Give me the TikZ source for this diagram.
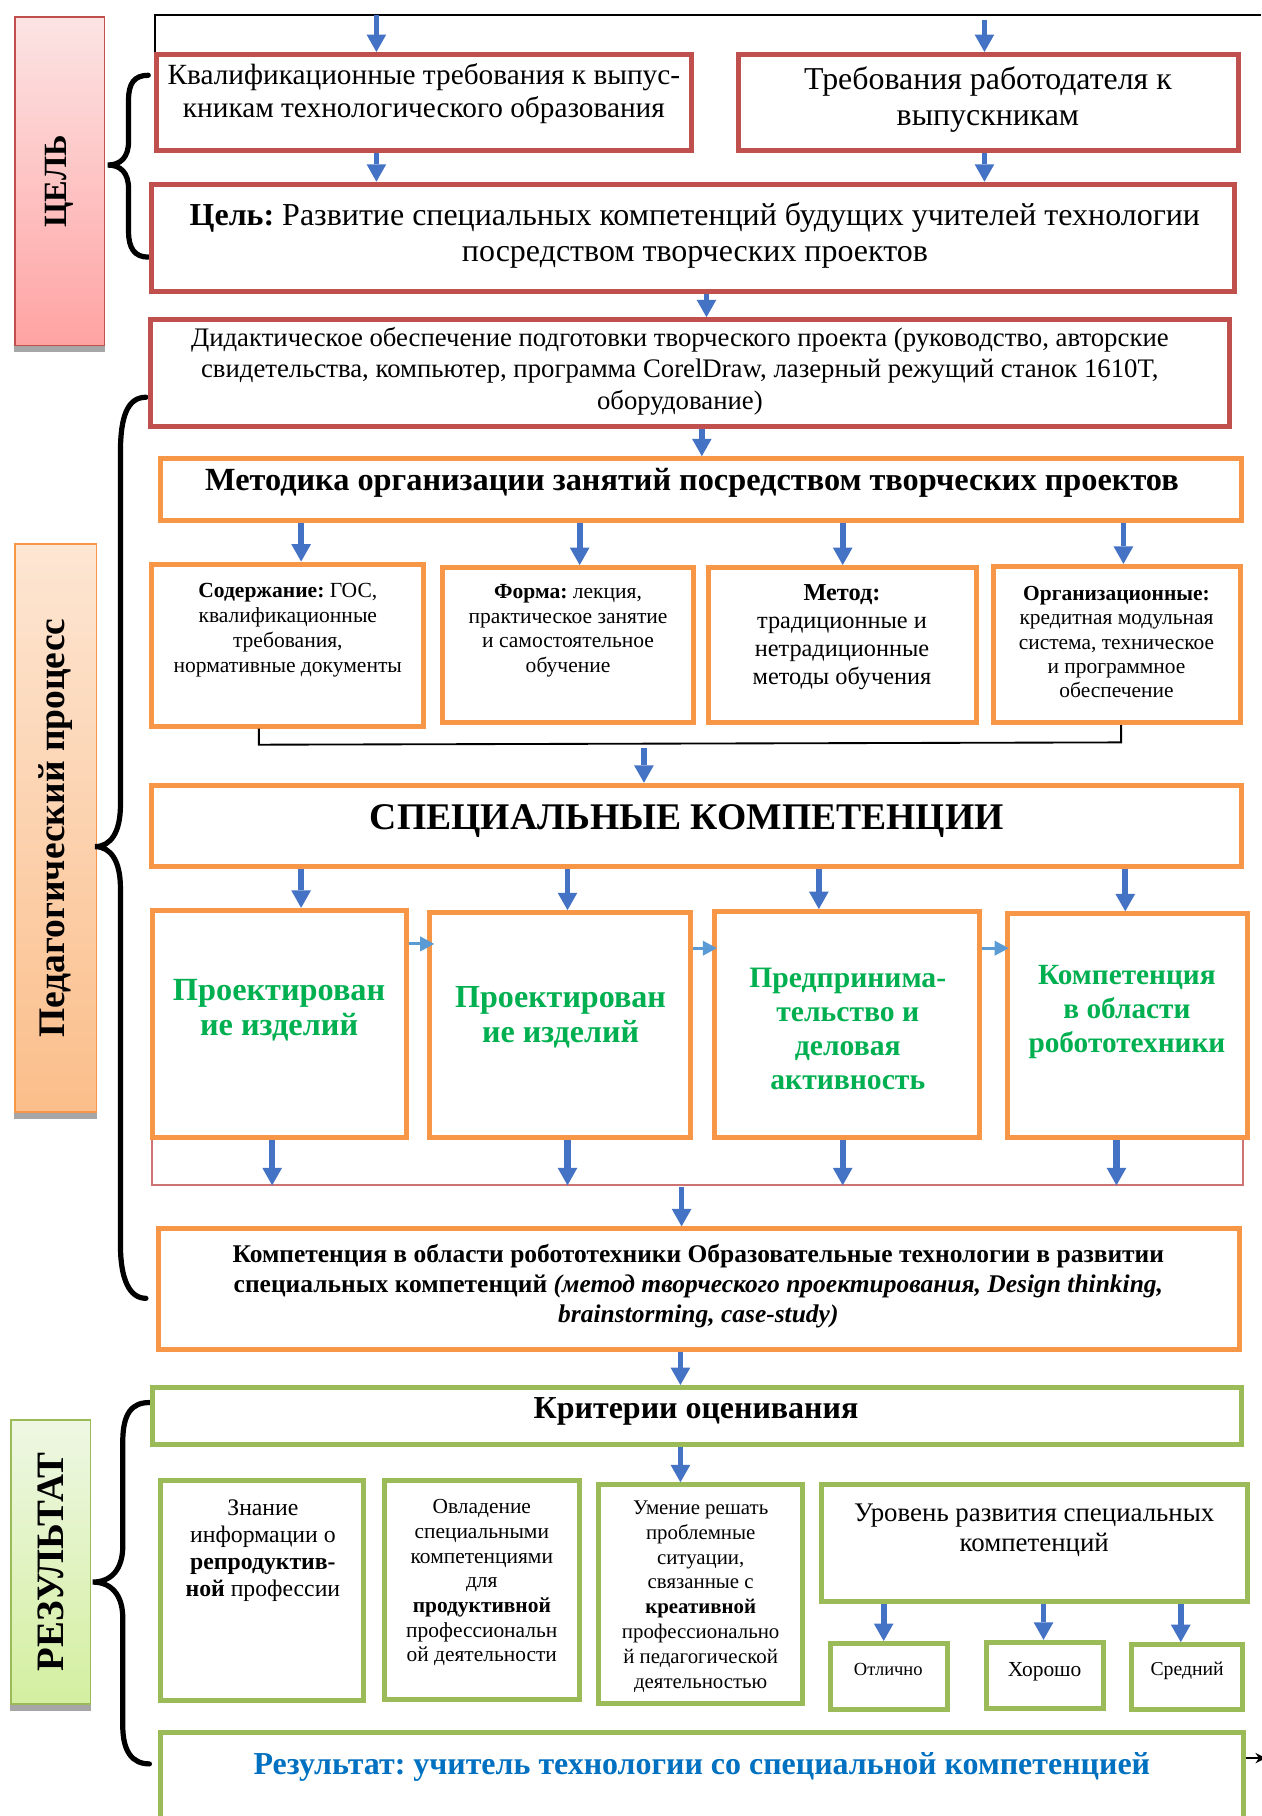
\documentclass[tikz,border=0pt]{standalone}
\usepackage{fontspec}
\setmainfont{Liberation Serif}
\usetikzlibrary{arrows.meta}
\definecolor{cRed}{HTML}{C0504D}
\definecolor{cOrange}{HTML}{F79646}
\definecolor{cGreen}{HTML}{9BBB59}
\definecolor{cBlue}{HTML}{4472C4}
\definecolor{cLBlue}{HTML}{5B9BD5}
\definecolor{cTxtGreen}{HTML}{00B050}
\definecolor{cTxtBlue}{HTML}{0070C0}
\definecolor{gTopA}{HTML}{FCE4E4}
\definecolor{gBotA}{HTML}{FFA3A3}
\definecolor{gTopB}{HTML}{FDE6D3}
\definecolor{gBotB}{HTML}{FBBE8A}
\definecolor{gTopC}{HTML}{EEF7E4}
\definecolor{gBotC}{HTML}{D4EFA0}
\newcommand\fsz[2]{\fontsize{#1}{#2}\selectfont}
\begin{document}
\frenchspacing
\begin{tikzpicture}[x=1pt,y=-1pt,
  box/.style={rectangle, fill=white, line width=4.3pt, inner sep=0pt},
  rbox/.style={box, draw=cRed},
  obox/.style={box, draw=cOrange},
  gbox/.style={box, draw=cGreen},
  txt/.style={align=center, inner sep=0pt, yshift=-2.5pt},
  ltxt/.style={align=center, inner sep=0pt},
  barrow/.style={draw=cBlue, line width=5pt, -{Triangle[width=17pt,length=15pt,line width=0pt]}},
  sarrow/.style={draw=cLBlue, line width=2.5pt, -{Triangle[width=13pt,length=12pt,line width=0pt]}},
  brace/.style={draw=black, line width=4.5pt, line cap=round},
  lbl/.style={rectangle, inner sep=0pt, line width=1.5pt},
  shadowband/.style={fill=black!35}
]
\path[use as bounding box, fill=white] (0,0) rectangle (1089,1568);

% ---------- left labels ----------
\node[lbl, draw=cRed, top color=gTopA, bottom color=gBotA, minimum width=77.5pt, minimum height=283.5pt] (L1) at (51.5,156.5) {};
\fill[shadowband] (L1.south west) rectangle ([yshift=-5pt]L1.south east);
\node[ltxt, rotate=90, font=\fsz{28}{30}\bfseries] (L1t) at (L1.center) {ЦЕЛЬ};

\node[lbl, draw=cOrange, top color=gTopB, bottom color=gBotB, minimum width=70.5pt, minimum height=490.5pt] (L2) at (48,715) {};
\fill[shadowband] (L2.south west) rectangle ([yshift=-5pt]L2.south east);
\node[ltxt, rotate=90, font=\fsz{32.4}{34}\bfseries] (L2t) at (L2.center) {Педагогический процесс};

\node[lbl, draw=cGreen, top color=gTopC, bottom color=gBotC, minimum width=68.5pt, minimum height=245.5pt] (L3) at (44,1348.5) {};
\fill[shadowband] (L3.south west) rectangle ([yshift=-5pt]L3.south east);
\node[ltxt, rotate=90, font=\fsz{33.5}{35}\bfseries] (L3t) at (L3.center) {РЕЗУЛЬТАТ};

% ---------- braces ----------
\draw[brace] (128,65) .. controls (116,65) and (111,72) .. (111,86) -- (111,122) .. controls (111,136) and (104,142.5) .. (93,142.5) .. controls (104,142.5) and (111,149) .. (111,163) -- (111,200) .. controls (111,214) and (116,222) .. (128,222);
\draw[brace] (126,343) .. controls (110,343) and (104,360) .. (104,390) -- (104,695) .. controls (104,718) and (96,731) .. (82,731) .. controls (96,731) and (104,744) .. (104,767) -- (104,1075) .. controls (104,1105) and (112,1121) .. (126,1121);
\draw[brace] (129,1211) .. controls (114,1211) and (106,1220) .. (106,1245) -- (106,1335) .. controls (106,1355) and (96,1366) .. (80,1366) .. controls (96,1366) and (106,1377) .. (106,1397) -- (106,1490) .. controls (106,1512) and (114,1523) .. (129,1523);

% ---------- boxes ----------
\node[rbox, minimum width=462pt, minimum height=83pt] (b1) at (366,88.5) {};
\node[rbox, minimum width=431pt, minimum height=83pt] (b2) at (853.5,88.5) {};
\node[rbox, minimum width=935pt, minimum height=93pt] (b3) at (598.5,205.5) {};
\node[rbox, minimum width=932pt, minimum height=92pt] (b4) at (596,322) {};
\node[obox, minimum width=933pt, minimum height=53pt] (b5) at (605.5,422.5) {};
\node[obox, minimum width=235pt, minimum height=140pt] (b6a) at (248.5,557) {};
\node[obox, minimum width=217pt, minimum height=134pt] (b6b) at (490.5,557) {};
\node[obox, minimum width=231pt, minimum height=134pt] (b6c) at (727.5,557) {};
\node[obox, minimum width=213pt, minimum height=135pt] (b6d) at (964.5,556.5) {};
\node[obox, minimum width=941pt, minimum height=70pt] (b7) at (601.5,713) {};
\node[obox, minimum width=219pt, minimum height=196pt] (c1) at (241.5,884) {};
\node[obox, minimum width=225pt, minimum height=194pt] (c2) at (483.5,885) {};
\node[obox, minimum width=229pt, minimum height=195pt] (c3) at (731.5,884.5) {};
\node[obox, minimum width=207pt, minimum height=193pt] (c4) at (973.5,885.5) {};
\node[obox, minimum width=933pt, minimum height=104pt] (b8) at (603.5,1113) {};
\node[gbox, minimum width=940pt, minimum height=49pt] (b9) at (602,1222.5) {};
\node[gbox, minimum width=175pt, minimum height=190pt] (d1) at (226.5,1373) {};
\node[gbox, minimum width=168pt, minimum height=189pt] (d2) at (416,1372.5) {};
\node[gbox, minimum width=176pt, minimum height=189pt] (d3) at (605,1376.5) {};
\node[gbox, minimum width=368pt, minimum height=101pt] (d4) at (893,1332.5) {};
\node[gbox, minimum width=101pt, minimum height=57pt] (e1) at (767.5,1447.5) {};
\node[gbox, minimum width=101pt, minimum height=57pt] (e2) at (902.5,1446.5) {};
\node[gbox, minimum width=96pt, minimum height=56pt] (e3) at (1025,1448) {};
\node[gbox, minimum width=935pt, minimum height=104pt] (b10) at (606.5,1548) {};

% ---------- texts ----------
\node[txt, font=\fsz{25.3}{29}] (t1) at (366,78.5) {Квалификационные требования к выпус-\\кникам технологического образования};
\node[txt, font=\fsz{27.5}{31.8}] (t2) at (853,83.5) {Требования работодателя к\\выпускникам};
\node[txt, font=\fsz{27.6}{31.3}] (t3) at (600,201) {\textbf{Цель:} Развитие специальных компетенций будущих учителей технологии\\посредством творческих проектов};
\node[txt, font=\fsz{23.1}{27.3}] (t4) at (587,318) {Дидактическое обеспечение подготовки творческого проекта (руководство, авторские\\свидетельства, компьютер, программа CorelDraw, лазерный режущий станок 1610T,\\оборудование)};
\node[txt, font=\fsz{27.9}{31}\bfseries] (t5) at (597.5,414.5) {Методика организации занятий посредством творческих проектов};
\node[txt, font=\fsz{18.6}{21.7}] (t6a) at (248.5,541.5) {\textbf{Содержание:} ГОС,\\квалификационные\\требования,\\нормативные документы};
\node[txt, font=\fsz{18.6}{21.3}] (t6b) at (490.5,542) {\textbf{Форма:} лекция,\\практическое занятие\\и самостоятельное\\обучение};
\node[txt, font=\fsz{21}{24.4}] (t6c) at (727,547.7) {\textbf{Метод:}\\традиционные и\\нетрадиционные\\методы обучения};
\node[txt, font=\fsz{18.5}{21}] (t6d) at (964,552) {\textbf{Организационные:}\\кредитная модульная\\система, техническое\\и программное\\обеспечение};
\node[txt, font=\fsz{32.5}{36}\bfseries] (t7) at (593,706.7) {СПЕЦИАЛЬНЫЕ КОМПЕТЕНЦИИ};
\node[txt, font=\fsz{27.9}{30}\bfseries, text=cTxtGreen] (tc1) at (241,870) {Проектирован\\ие изделий};
\node[txt, font=\fsz{27.7}{30}\bfseries, text=cTxtGreen] (tc2) at (484,876) {Проектирован\\ие изделий};
\node[txt, font=\fsz{25.6}{29.3}\bfseries, text=cTxtGreen] (tc3) at (732,886) {Предпринима-\\тельство и\\деловая\\активность};
\node[txt, font=\fsz{25.3}{29.4}\bfseries, text=cTxtGreen] (tc4) at (973,871.6) {Компетенция\\в области\\робототехники};
\node[txt, font=\fsz{22}{26}\bfseries] (t8) at (603,1108) {Компетенция в области робототехники Образовательные технологии в развитии\\специальных компетенций \textit{(метод творческого проектирования, Design thinking,}\\\textit{brainstorming, case-study)}};
\node[txt, font=\fsz{27.6}{30}\bfseries] (t9) at (601,1216) {Критерии оценивания};
\node[txt, font=\fsz{20.5}{23.5}] (td1) at (227,1336.4) {Знание\\информации о\\\textbf{репродуктив-}\\\textbf{ной} профессии};
\node[txt, font=\fsz{18.5}{21.3}] (td2) at (416,1364) {Овладение\\специальными\\компетенциями\\для\\\textbf{продуктивной}\\профессиональн\\ой деятельности};
\node[txt, font=\fsz{18}{21.4}] (td3) at (605,1376) {Умение решать\\проблемные\\ситуации,\\связанные с\\\textbf{креативной}\\профессионально\\й педагогической\\деятельностью};
\node[txt, font=\fsz{23.2}{26}] (td4) at (893,1318.5) {Уровень развития специальных\\компетенций};
\node[txt, font=\fsz{16}{18}] (te1) at (767,1439) {Отлично};
\node[txt, font=\fsz{18.5}{22}] (te2) at (902,1440.6) {Хорошо};
\node[txt, font=\fsz{17}{19}] (te3) at (1025,1440) {Средний};
\node[txt, font=\fsz{27.6}{30}\bfseries, text=cTxtBlue] (t10) at (606,1522.8) {Результат: учитель технологии со специальной компетенцией};

% ---------- connectors ----------
\coordinate (tl) at (134,13);
\coordinate (tr) at (1089,13);
\draw[line width=1.5pt] (tl |- b1.north) -- (tl) -- (tr);
\coordinate (a1) at (325,13);
\coordinate (a2) at (850,17);
\draw[barrow] (a1) -- (a1 |- b1.north);
\draw[barrow] (a2) -- (a2 |- b2.north);
\draw[barrow] (a1 |- b1.south) -- (a1 |- b3.north);
\draw[barrow] (a2 |- b2.south) -- (a2 |- b3.north);
\coordinate (a3) at (610,0);
\draw[barrow] (a3 |- b3.south) -- (a3 |- b4.north);
\coordinate (a4) at (606,0);
\draw[barrow] (a4 |- b4.south) -- (a4 |- b5.north);
\coordinate (x1) at (260,0);
\coordinate (x2) at (500.5,0);
\coordinate (x3) at (727.6,0);
\coordinate (x4) at (970,0);
\draw[barrow] (x1 |- b5.south) -- (x1 |- b6a.north);
\draw[barrow] (x2 |- b5.south) -- (x2 |- b6b.north);
\draw[barrow] (x3 |- b5.south) -- (x3 |- b6c.north);
\draw[barrow] (x4 |- b5.south) -- (x4 |- b6d.north);
% bracket under the four boxes
\coordinate (bl) at (223.5,643);
\coordinate (br) at (968,641);
\draw[line width=1.6pt] (bl |- b6a.south) -- (bl) -- (br) -- (br |- b6d.south);
\coordinate (a5) at (556,646);
\draw[barrow] (a5) -- (a5 |- b7.north);
\coordinate (y1) at (260,0);
\coordinate (y2) at (490,0);
\coordinate (y3) at (707,0);
\coordinate (y4) at (971.6,0);
\draw[barrow] (y1 |- b7.south) -- (y1 |- c1.north);
\draw[barrow] (y2 |- b7.south) -- (y2 |- c2.north);
\draw[barrow] (y3 |- b7.south) -- (y3 |- c3.north);
\draw[barrow] (y4 |- b7.south) -- (y4 |- c4.north);
% small arrows between the competence boxes
\coordinate (h1) at (0,815);
\coordinate (h2) at (0,818.7);
\draw[sarrow] (c1.east |- h1) -- ([xshift=6pt]c2.west |- h1);
\draw[sarrow] (c2.east |- h2) -- ([xshift=4pt]c3.west |- h2);
\draw[sarrow] (c3.east |- h2) -- ([xshift=3pt]c4.west |- h2);
% red collecting line
\coordinate (rl) at (131.5,1023.4);
\coordinate (rr) at (1073,1023.4);
\draw[draw=cRed!80, line width=1.5pt] (rl |- c1.south) -- (rl) -- (rr) -- (rr |- c4.south);
\coordinate (z1) at (235,0);
\coordinate (z2) at (490,0);
\coordinate (z3) at (727.6,0);
\coordinate (z4) at (964,0);
\draw[barrow, line width=5.5pt] (z1 |- c1.south) -- (z1 |- rl);
\draw[barrow, line width=5.5pt] (z2 |- c2.south) -- (z2 |- rl);
\draw[barrow, line width=5.5pt] (z3 |- c3.south) -- (z3 |- rl);
\draw[barrow, line width=5.5pt] (z4 |- c4.south) -- (z4 |- rl);
\coordinate (a6) at (588.5,1025);
\draw[barrow] (a6) -- (a6 |- b8.north);
\coordinate (a7) at (587.5,0);
\draw[barrow] (a7 |- b8.south) -- (a7 |- b9.north);
\draw[barrow] (a7 |- b9.south) -- (a7 |- d3.north);
\coordinate (w1) at (763,0);
\coordinate (w2) at (901,0);
\coordinate (w3) at (1019.5,0);
\draw[barrow] (w1 |- d4.south) -- (w1 |- e1.north);
\draw[barrow] (w2 |- d4.south) -- (w2 |- e2.north);
\draw[barrow] (w3 |- d4.south) -- (w3 |- e3.north);
% feedback arrow leaving the result box
\coordinate (fb) at (1093,1518);
\draw[line width=1.5pt, -{Stealth[length=9pt,width=9pt]}] (b10.east |- fb) -- (fb);
\end{tikzpicture}
\end{document}
